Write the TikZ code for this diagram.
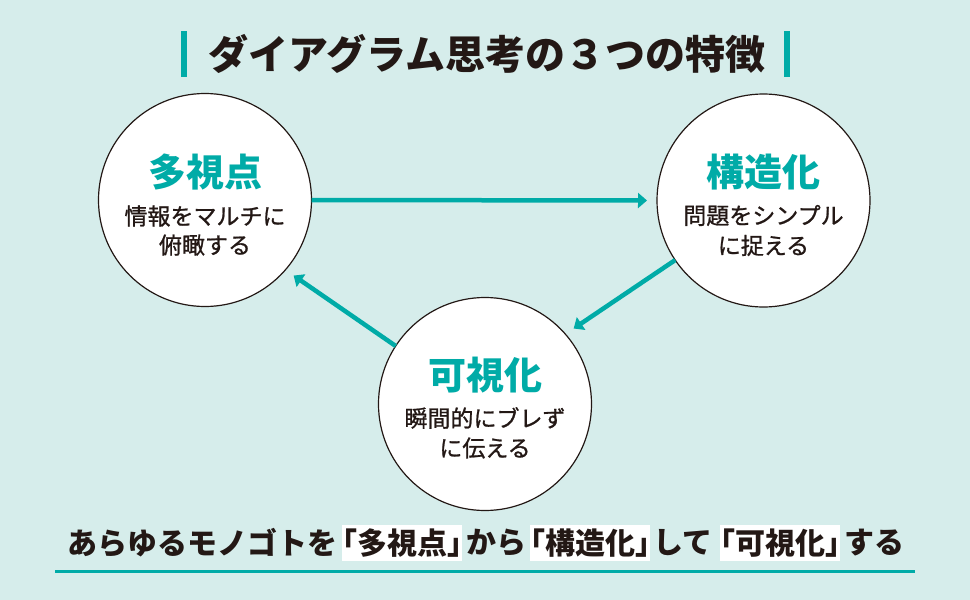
\documentclass[tikz,border=0pt]{standalone}
\usepackage{fontspec}
\setmainfont{Noto Sans CJK JP}
\newfontfamily\jphalt{Noto Sans CJK JP}[RawFeature=+halt]
\newfontfamily\jpmed{Noto Sans CJK JP}[FakeBold=0.9]
\usetikzlibrary{arrows.meta}
\definecolor{bg}{HTML}{D6EDEB}
\definecolor{tealc}{HTML}{00ABA7}
\definecolor{ink}{HTML}{231815}
\begin{document}
\begin{tikzpicture}[x=1pt,y=-1pt,
  circ/.style={circle, draw=ink, line width=1.2pt, fill=white, minimum size=213pt, inner sep=0pt, outer sep=0pt},
  head/.style={text=tealc, font=\fontsize{38}{40}\selectfont\bfseries, inner sep=0pt},
  body/.style={text=ink, font=\fontsize{23}{29}\selectfont\jpmed, inner sep=0pt},
  arr/.style={draw=tealc, line width=4.5pt, -{Triangle[length=9pt,width=15pt]}, shorten >=10pt},
  bar/.style={fill=tealc, draw=none},
  seg/.style={text=ink, font=\fontsize{30}{32}\selectfont\bfseries, inner sep=0pt, anchor=west},
  hl/.style={seg, fill=white, minimum height=36pt, font=\fontsize{30}{32}\selectfont\bfseries\jphalt},
]
\fill[bg] (0,0) rectangle (970,600);
\useasboundingbox (0,0) rectangle (970,600);

% title
\fill[bar] (181,31) rectangle (187,77);
\fill[bar] (784,31) rectangle (790,77);
\node[text=ink, font=\fontsize{40}{44}\selectfont\bfseries, inner sep=0pt] (title) at (487,54) {ダイアグラム思考の３つの特徴};

% circles
\node[circ] (L) at (205,200) {};
\node[circ] (R) at (763.5,200.5) {};
\node[circ] (B) at (485,404) {};

\node[head] (Lh) at ([yshift=28pt]L.center) {多視点};
\node[body] (Lb1) at ([yshift=-16pt]L.center) {情報をマルチに};
\node[body] (Lb2) at ([yshift=-45pt]L.center) {俯瞰する};

\node[head] (Rh) at ([yshift=28pt]R.center) {構造化};
\node[body] (Rb1) at ([yshift=-15pt]R.center) {問題をシンプル};
\node[body] (Rb2) at ([yshift=-45pt]R.center) {に捉える};

\node[head] (Bh) at ([yshift=29pt]B.center) {可視化};
\node[body] (Bb1) at ([yshift=-14pt]B.center) {瞬間的にブレず};
\node[body] (Bb2) at ([yshift=-44pt]B.center) {に伝える};

% arrows
\draw[arr] (L.east) -- (R.west);
\draw[arr] (R.214) -- (B.41);
\draw[arr] (B.147) -- (L.319);

% bottom sentence
\node[seg] (s1) at (67,543) {あらゆるモノゴトを};
\node[hl]  (s2) at (342,543) {「多視点」};
\node[seg] (s3) at (466,543) {から};
\node[hl]  (s4) at (530,543) {「構造化」};
\node[seg] (s5) at (653,543) {して};
\node[hl]  (s6) at (720,543) {「可視化」};
\node[seg] (s7) at (844,543) {する};
\fill[tealc] (55,569.5) rectangle (915,572.5);
\end{tikzpicture}
\end{document}
